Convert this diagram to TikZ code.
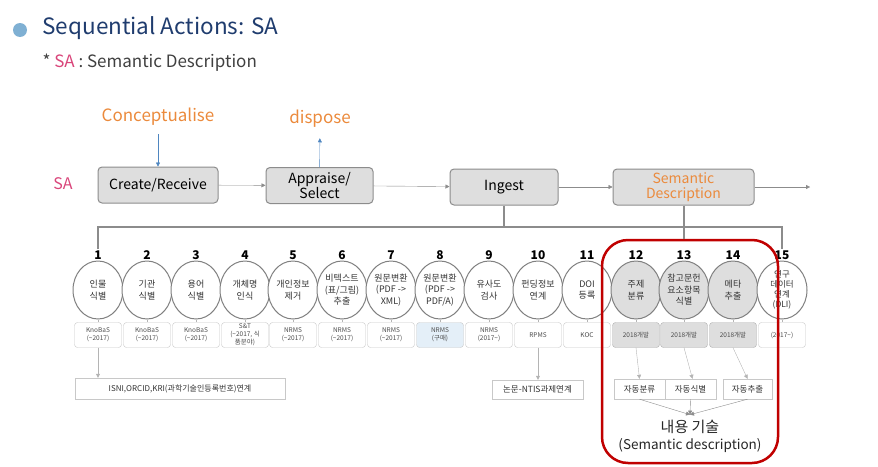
\documentclass[tikz,border=0pt]{standalone}
\usepackage{fontspec}
\setmainfont{Noto Sans CJK KR}
\usetikzlibrary{arrows.meta,shapes.geometric}

\definecolor{headblue}{HTML}{1F3C6E}
\definecolor{dotblue}{HTML}{7FB0D3}
\definecolor{sapink}{HTML}{D9457A}
\definecolor{phaseorange}{HTML}{EB8A3C}
\definecolor{arrowblue}{HTML}{4F86C0}
\definecolor{linegray}{HTML}{8C8C8C}
\definecolor{lightline}{HTML}{B4B4B4}
\definecolor{stagefill}{HTML}{DEDEDE}
\definecolor{boxline}{HTML}{C8C8C8}
\definecolor{pickblue}{HTML}{E4EFF8}
\definecolor{focusred}{HTML}{C00000}
\newcommand{\tld}{\textasciitilde}

\tikzset{
	stage/.style={draw=linegray, fill=stagefill, rounded corners=4pt, line width=1pt, minimum height=36pt, inner sep=2pt, align=center, font=\fontsize{14}{15}\selectfont},
	act/.style={ellipse, draw=gray, line width=1pt, fill=white, minimum width=50pt, minimum height=58pt, inner sep=0pt, align=center, text=black!80, font=\fontsize{9}{11.5}\selectfont},
	tool/.style={draw=boxline, fill=white, rounded corners=3pt, minimum width=47pt, minimum height=25pt, inner sep=0pt, align=center, text=black!70, font=\fontsize{6.5}{8}\selectfont},
	result/.style={draw=boxline, fill=white, inner sep=0pt, text=black!80, font=\fontsize{8.5}{10}\selectfont},
	num/.style={font=\bfseries\fontsize{12}{12}\selectfont, inner sep=1pt},
}

\begin{document}
\begin{tikzpicture}[x=1pt,y=-1pt,>={Triangle[length=4pt,width=4pt]}]
		\useasboundingbox (0,0) rectangle (878,466);
		
		\node[circle, fill=dotblue, minimum size=14pt, inner sep=0pt] (dot) at (20,30) {};
		\node[anchor=west, text=headblue, font=\fontsize{22.5}{24}\selectfont] (title) at (39,28) {Sequential Actions: SA};
		\node[anchor=west, text=black!75, font=\fontsize{17}{17}\selectfont] (subtitle) at (39,63) {* \textcolor{sapink}{SA} : Semantic Description};
		
		\node[text=sapink, font=\fontsize{16}{16}\selectfont] (salabel) at (63,184) {SA};
		\node[text=phaseorange, font=\fontsize{17}{17}\selectfont] (concept) at (158,117) {Conceptualise};
		\node[text=phaseorange, font=\fontsize{17}{17}\selectfont] (dispose) at (320,119) {dispose};
		
		\node[stage, minimum width=120pt] (create) at (158,185) {Create/Receive};
		\node[stage, minimum width=107pt] (appraise) at (319.5,185.5) {Appraise/\\Select};
		\node[stage, minimum width=108pt] (ingest) at (504,187) {Ingest};
		\node[stage, minimum width=141pt, text=phaseorange] (semdesc) at (683.5,187) {Semantic\\Description};
		\coordinate (next) at (810,187);
		
		\draw [arrowblue,->,shorten <=5pt] (concept) -- (create);
		\draw [arrowblue,->,shorten >=7pt] (appraise) -- (dispose);
		\draw [linegray,->] (create) -- (appraise);
		\draw [linegray,->] (appraise) -- (ingest);
		\draw [linegray,->] (ingest) -- (semdesc);
		\draw [linegray,->] (semdesc) -- (next);
		
		% functions under ingest / semantic description
		\node[act, label={[num,name=n1]above:1}] (a1) at (98,290) {인물\\식별};
		\node[act, label={[num,name=n2]above:2}] (a2) at (147,290) {기관\\식별};
		\node[act, label={[num,name=n3]above:3}] (a3) at (196,290) {용어\\식별};
		\node[act, label={[num,name=n4]above:4}] (a4) at (245,290) {개체명\\인식};
		\node[act, label={[num,name=n5]above:5}] (a5) at (293,290) {개인정보\\제거};
		\node[act, label={[num,name=n6]above:6}] (a6) at (342,290) {비텍스트\\(표/그림)\\추출};
		\node[act, label={[num,name=n7]above:7}] (a7) at (391,290) {원문변환\\(PDF ->\\XML)};
		\node[act, label={[num,name=n8]above:8}] (a8) at (440,290) {원문변환\\(PDF ->\\PDF/A)};
		\node[act, label={[num,name=n9]above:9}] (a9) at (489,290) {유사도\\검사};
		\node[act, label={[num,name=n10]above:10}] (a10) at (538,290) {펀딩정보\\연계};
		\node[act, label={[num,name=n11]above:11}] (a11) at (587,290) {DOI\\등록};
		\node[act, fill=stagefill, label={[num,name=n12]above:12}] (a12) at (636,290) {주제\\분류};
		\node[act, fill=stagefill, label={[num,name=n13]above:13}] (a13) at (684,290) {참고문헌\\요소항목\\식별};
		\node[act, fill=stagefill, label={[num,name=n14]above:14}] (a14) at (733,290) {메타\\추출};
		\node[act, font=\fontsize{8.5}{10}\selectfont, label={[num,name=n15]above:15}] (a15) at (782,290) {연구\\데이터\\연계\\(DLI)};
		
		\node[tool] (t1) at (98,335) {KnoBaS\\(\tld2017)};
		\node[tool] (t2) at (147,335) {KnoBaS\\(\tld2017)};
		\node[tool] (t3) at (196,335) {KnoBaS\\(\tld2017)};
		\node[tool] (t4) at (245,335) {S\&T\\(\tld2017, 식\\품분야)};
		\node[tool] (t5) at (293,335) {NRMS\\(\tld2017)};
		\node[tool] (t6) at (342,335) {NRMS\\(\tld2017)};
		\node[tool] (t7) at (391,335) {NRMS\\(\tld2017)};
		\node[tool, fill=pickblue] (t8) at (440,335) {NRMS\\(구매)};
		\node[tool] (t9) at (489,335) {NRMS\\(2017\tld)};
		\node[tool] (t10) at (538,335) {RPMS};
		\node[tool] (t11) at (587,335) {KOC};
		\node[tool, fill=stagefill, draw=linegray!70] (t12) at (636,335) {2018개발};
		\node[tool, fill=stagefill, draw=linegray!70] (t13) at (684,335) {2018개발};
		\node[tool, fill=stagefill, draw=linegray!70] (t14) at (733,335) {2018개발};
		\node[tool] (t15) at (782,335) {(2017\tld)};
		
		\draw [lightline] (a1) -- (t1);
		\draw [lightline] (a2) -- (t2);
		\draw [lightline] (a3) -- (t3);
		\draw [lightline] (a4) -- (t4);
		\draw [lightline] (a5) -- (t5);
		\draw [lightline] (a6) -- (t6);
		\draw [lightline] (a7) -- (t7);
		\draw [lightline] (a8) -- (t8);
		\draw [lightline] (a9) -- (t9);
		\draw [lightline] (a10) -- (t10);
		\draw [lightline] (a11) -- (t11);
		\draw [lightline] (a12) -- (t12);
		\draw [lightline] (a13) -- (t13);
		\draw [lightline] (a14) -- (t14);
		\draw [lightline] (a15) -- (t15);
		
		% bracket from the stages
		\coordinate (brk) at (440,227);
		\draw [linegray,line width=2pt] (n1.north) |- (brk) -| (n15.north);
		\draw [linegray,line width=2pt] (ingest.south) -- (ingest.south |- brk);
		
		% links and automatic steps
		\node[result, minimum width=210pt, minimum height=21pt, font=\fontsize{8}{10}\selectfont] (isni) at (180,388.5) {ISNI,ORCID,KRI(과학기술인등록번호)연계};
		\node[result, minimum width=91pt, minimum height=19pt] (ntis) at (537.5,389.5) {논문-NTIS과제연계};
		\node[result, minimum width=51pt, minimum height=20pt] (autocls) at (639.5,389) {자동분류};
		\node[result, minimum width=51pt, minimum height=20pt] (autoidn) at (690.5,389) {자동식별};
		\node[result, minimum width=49pt, minimum height=20pt] (autoext) at (747.5,389) {자동추출};
		\node[text=black!85, font=\fontsize{15}{15}\selectfont] (desc) at (690,427) {내용 기술};
		\node[text=black!85, font=\fontsize{13.5}{14}\selectfont] (descen) at (690,446) {(Semantic description)};
		
		\draw [lightline,->] (t1) -- (t1.south |- isni.north);
		\draw [lightline,->] (t10) -- (t10.south |- ntis.north);
		\draw [lightline,->] (t12.south) -- (autocls.north);
		\draw [lightline,->] (t13.south) -- ([xshift=2pt]autoidn.north);
		\draw [lightline,->] (t14.south) -- (autoext.north);
		\draw [linegray,->] (autocls.south) -- ([yshift=2pt]desc.north);
		\draw [linegray,->] (autoidn.south) -- ([yshift=2pt]desc.north);
		\draw [linegray,->] (autoext.south) -- ([yshift=2pt]desc.north);
		
		\node[draw=focusred, line width=2.5pt, rounded corners=26pt, minimum width=176pt, minimum height=223pt] (focus) at (690,351.5) {};
		\draw [linegray,line width=2pt] (semdesc.south) -- (semdesc.south |- focus.north);
\end{tikzpicture}
\end{document}
